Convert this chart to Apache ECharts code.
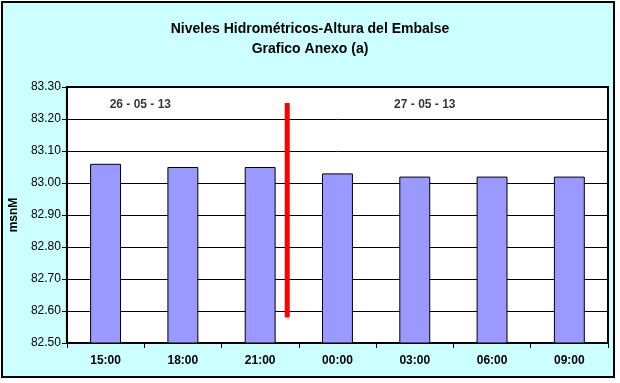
<!DOCTYPE html>
<html>
<head>
<meta charset="utf-8">
<script src="https://cdn.jsdelivr.net/npm/echarts@6/dist/echarts.min.js"></script>
<style>
html,body{margin:0;padding:0;background:#fff;}
#c{width:620px;height:383px;}
</style>
</head>
<body>
<div id="c"></div>
<script>
// Data
const categories = ['15:00', '18:00', '21:00', '00:00', '03:00', '06:00', '09:00'];
const levels = [83.06, 83.05, 83.05, 83.03, 83.02, 83.02, 83.02];
const yTicks = { min: 82.5, max: 83.3, interval: 0.1 };
// date annotations: [position in category units, level, text]
const dateLabels = [[0.95, 83.245, '26 - 05 - 13'], [4.63, 83.245, '27 - 05 - 13']];
// day separator line: [position in category units, level]
const separator = [[2.85, 83.25], [2.85, 82.58]];

const chart = echarts.init(document.getElementById('c'));
chart.setOption({
  animation: false,
  backgroundColor: '#fff',
  graphic: [{
    type: 'rect', z: -10,
    shape: { x: 2, y: 2, width: 612, height: 375 },
    style: { fill: '#CCFFFF', stroke: '#000', lineWidth: 2 }
  }],
  title: {
    text: 'Niveles Hidrométricos-Altura del Embalse\nGrafico Anexo (a)',
    left: 'center', top: 14,
    textStyle: { fontFamily: 'Liberation Sans, Arial', fontSize: 14, fontWeight: 'bold', color: '#000', lineHeight: 20 }
  },
  grid: {
    left: 63, top: 87, right: 12, bottom: 40,
    show: true, backgroundColor: '#fff', borderColor: '#000', borderWidth: 2
  },
  xAxis: [{
    type: 'category', data: categories,
    axisLine: { lineStyle: { color: '#000', width: 1 } },
    axisTick: { show: true, length: 5, lineStyle: { color: '#000' } },
    axisLabel: { color: '#000', fontFamily: 'Liberation Sans, Arial', fontSize: 12, fontWeight: 'bold', margin: 12 }
  }, {
    type: 'value', min: 0, max: 7, show: false
  }],
  yAxis: {
    type: 'value', min: yTicks.min, max: yTicks.max, interval: yTicks.interval,
    name: 'msnM', nameLocation: 'middle', nameRotate: 90, nameGap: 46,
    nameTextStyle: { fontFamily: 'Liberation Sans, Arial', fontSize: 12, fontWeight: 'bold', color: '#000' },
    axisLine: { show: true, lineStyle: { color: '#000' } },
    axisTick: { show: true, length: 5, lineStyle: { color: '#000' } },
    splitLine: { lineStyle: { color: '#000', width: 1 } },
    axisLabel: { color: '#000', fontFamily: 'Liberation Sans, Arial', fontSize: 12, margin: 6,
      formatter: v => v.toFixed(2) }
  },
  series: [{
    type: 'bar', data: levels, barWidth: '40%',
    itemStyle: { color: '#9999FF', borderColor: '#000', borderWidth: 1 }
  }, {
    type: 'line', xAxisIndex: 1, data: separator, symbol: 'none',
    lineStyle: { color: '#FF0000', width: 5, cap: 'butt' }, z: 5
  }, {
    type: 'scatter', xAxisIndex: 1, symbolSize: 0,
    data: dateLabels.map(d => ({ value: [d[0], d[1]], name: d[2] })),
    label: { show: true, position: 'inside', formatter: p => p.name,
      fontFamily: 'Liberation Sans Narrow, Liberation Sans, Arial', fontSize: 12, fontWeight: 'bold', color: '#000' }
  }]
});
</script>
</body>
</html>
